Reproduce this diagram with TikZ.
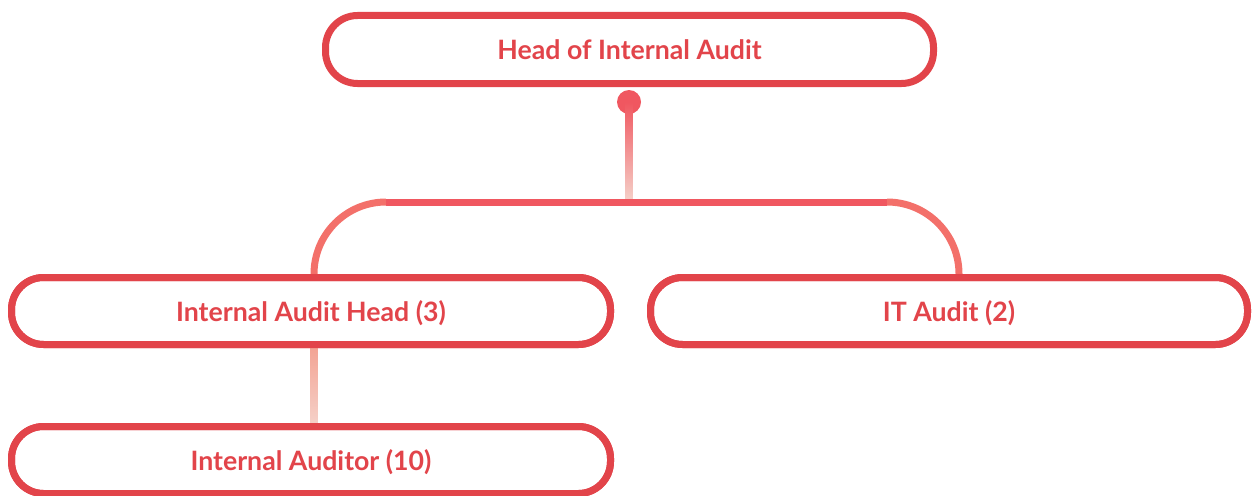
\documentclass[tikz,border=0pt]{standalone}
\usepackage{fontspec}
\setmainfont{Lato}
\usepackage{tikz}
\usepackage{xcolor}
\usetikzlibrary{shapes, arrows.meta, positioning}

\definecolor{boxred}{HTML}{E2444A}
\definecolor{linered}{HTML}{F05760}
\definecolor{arcred}{HTML}{F3706A}
\definecolor{fadepink}{HTML}{F5D2CA}
\definecolor{midpink}{HTML}{F3A292}

\tikzset{
    rolebox/.style={draw=boxred, line width=7pt, rounded corners=32pt, fill=white,
        text=boxred, font=\bfseries\fontsize{26.7}{30}\selectfont, text depth=0pt,
        inner sep=0pt, outer sep=0pt},
    branch/.style={line width=7pt}
}

\begin{document}
\begin{tikzpicture}[x=1pt, y=-1pt]
        \useasboundingbox (0,0) rectangle (1252,495);
        % boxes
        \node[rolebox, minimum width=608pt, minimum height=68pt] (head) at (629.5,49.5) {Head of Internal Audit};
        \node[rolebox, minimum width=599pt, minimum height=67pt] (iah) at (311,311) {Internal Audit Head (3)};
        \node[rolebox, minimum width=597pt, minimum height=67pt] (ita) at (949,311) {IT Audit (2)};
        \node[rolebox, minimum width=599pt, minimum height=67pt] (iau) at (311,460) {Internal Auditor (10)};
        % connectors
        \node[fill=linered, circle, inner sep=0pt, minimum size=24pt] (dot) at (629,102) {};
        \coordinate (bar) at (629,202);
        \coordinate (left) at (314,274);
        \coordinate (right) at (959,274);
        \shade[top color=linered, bottom color=fadepink] ([xshift=-3.5pt]dot.center) rectangle ([xshift=3.5pt]bar);
        \draw[branch, arcred] (left) arc[start angle=180, end angle=270, radius=72] coordinate (lbar);
        \draw[branch, arcred] (right) arc[start angle=0, end angle=-90, radius=72] coordinate (rbar);
        \draw[branch, linered] (lbar) -- (rbar);
        \shade[top color=midpink, bottom color=fadepink] ([xshift=-3.5pt]iah.south -| left) rectangle ([xshift=3.5pt]iau.north -| left);
        % redraw the box edges over the line ends
        \foreach \b in {iah, ita, iau} {
            \draw[boxred, line width=7pt, rounded corners=32pt] (\b.south west) rectangle (\b.north east);
        }
    \end{tikzpicture}
\end{document}
